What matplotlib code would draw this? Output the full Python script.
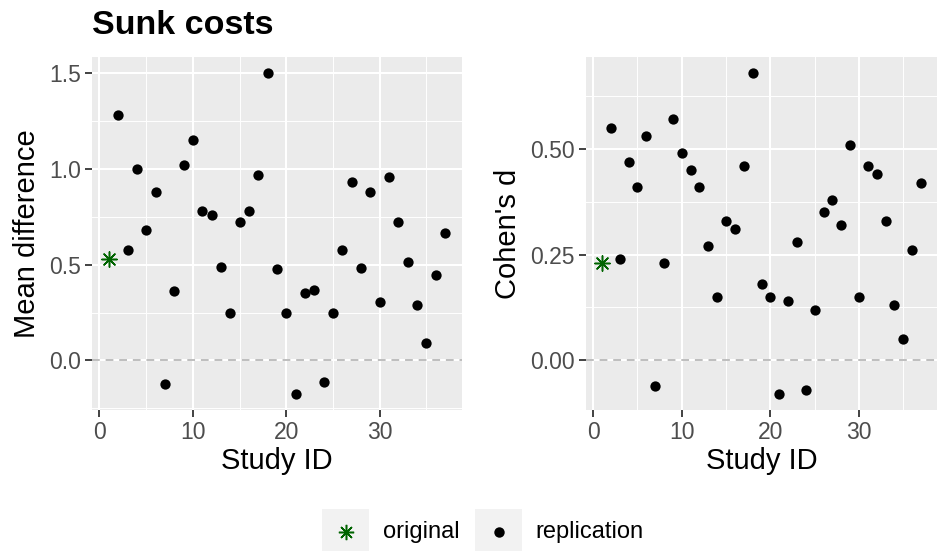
import numpy as np
import matplotlib.pyplot as plt
from matplotlib.lines import Line2D
from matplotlib.patches import Rectangle
from matplotlib.ticker import MultipleLocator

plt.rcParams['font.family'] = ['Liberation Sans', 'DejaVu Sans']

study_id = list(range(1, 38))
mean_diff = [0.53, 1.28, 0.575, 1.0, 0.68, 0.88, -0.125, 0.36, 1.02, 1.15,
             0.78, 0.76, 0.49, 0.245, 0.72, 0.78, 0.97, 1.50, 0.475, 0.245,
             -0.175, 0.35, 0.37, -0.11, 0.245, 0.575, 0.93, 0.485, 0.88, 0.305,
             0.96, 0.72, 0.515, 0.29, 0.09, 0.445, 0.665]
cohens_d = [0.23, 0.55, 0.24, 0.47, 0.41, 0.53, -0.06, 0.23, 0.57, 0.49,
            0.45, 0.41, 0.27, 0.15, 0.33, 0.31, 0.46, 0.68, 0.18, 0.15,
            -0.08, 0.14, 0.28, -0.07, 0.12, 0.35, 0.38, 0.32, 0.51, 0.15,
            0.46, 0.44, 0.33, 0.13, 0.05, 0.26, 0.42]
# first study is the original, the rest are replications
kind = ['original'] + ['replication'] * 36
legend_labels = ['original', 'replication']

W, H = 938, 551
fig = plt.figure(figsize=(W / 100, H / 100), dpi=100)

STAR = (8, 2, 0)
GREEN = '#006400'


def px_axes(x0, y0, x1, y1):
    return fig.add_axes([x0 / W, 1 - y1 / H, (x1 - x0) / W, (y1 - y0) / H])


def gg_panel(ax, y, ylabel, major, minor, fmt):
    ax.set_facecolor('#EBEBEB')
    for s in ax.spines.values():
        s.set_visible(False)
    x = np.array(study_id)
    y = np.array(y)
    orig = np.array([k == 'original' for k in kind])
    ax.axhline(0, color='#BEBEBE', lw=1.4, ls=(0, (4, 3)), zorder=2)
    ax.scatter(x[~orig], y[~orig], s=55, color='black', zorder=3, linewidths=0)
    ax.scatter(x[orig], y[orig], s=120, marker=STAR, color=GREEN,
               linewidths=1.1, zorder=3)
    xr = x.max() - x.min()
    ax.set_xlim(x.min() - 0.05 * xr, x.max() + 0.05 * xr)
    yr = y.max() - y.min()
    ax.set_ylim(y.min() - 0.05 * yr, y.max() + 0.05 * yr)
    ax.xaxis.set_major_locator(MultipleLocator(10))
    ax.xaxis.set_minor_locator(MultipleLocator(5))
    ax.yaxis.set_major_locator(MultipleLocator(major))
    ax.yaxis.set_minor_locator(MultipleLocator(minor))
    ax.yaxis.set_major_formatter(fmt)
    ax.grid(which='major', color='white', lw=1.5, zorder=0)
    ax.grid(which='minor', color='white', lw=0.7, zorder=0)
    ax.set_axisbelow(True)
    ax.tick_params(which='major', length=5, width=1.3, color='#333333',
                   labelcolor='#4D4D4D', labelsize=16.5, pad=3)
    ax.tick_params(which='minor', length=0)
    ax.set_xlabel('Study ID', fontsize=21, labelpad=2)
    ax.set_ylabel(ylabel, fontsize=21, labelpad=6)


ax1 = px_axes(92, 57, 462, 410)
gg_panel(ax1, mean_diff, 'Mean difference', 0.5, 0.25, '{x:.1f}')
ax2 = px_axes(586, 57, 937, 410)
gg_panel(ax2, cohens_d, "Cohen's d", 0.25, 0.125, '{x:.2f}')

fig.text(92 / W, 1 - 34 / H, 'Sunk costs', fontsize=24.5, fontweight='bold',
         ha='left', va='baseline')

# legend drawn in pixel space, ggplot style keys
lax = fig.add_axes([0, 0, 1, 1])
lax.set_xlim(0, W)
lax.set_ylim(H, 0)
lax.axis('off')
key_x = [322, 475]
text_x = [383, 535]
for kx, tx, lab in zip(key_x, text_x, legend_labels):
    lax.add_patch(Rectangle((kx, 509), 47, 47, facecolor='#F2F2F2',
                            edgecolor='none'))
    if lab == 'original':
        lax.plot(kx + 23.5, 532, ls='', marker=STAR, color=GREEN,
                 markersize=11, markeredgewidth=1.1)
    else:
        lax.plot(kx + 23.5, 532, ls='', marker='o', color='black',
                 markersize=7.5, markeredgewidth=0)
    lax.text(tx, 532, lab, fontsize=17, ha='left', va='center')

fig.savefig('out.png', dpi=100)
